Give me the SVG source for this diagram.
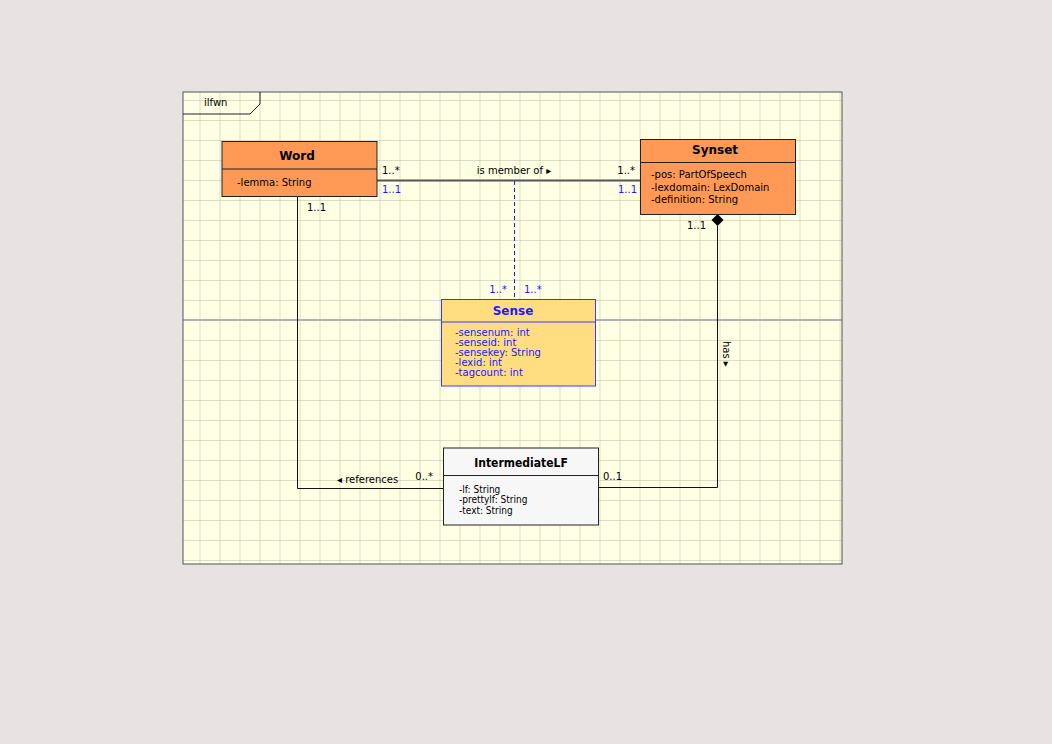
<svg xmlns="http://www.w3.org/2000/svg" width="1052" height="744" viewBox="0 0 1052 744">
  <defs>
    <pattern id="grid" x="199.5" y="100" width="20" height="20" patternUnits="userSpaceOnUse">
      <path d="M0 0 V20 M0 0 H20" fill="none" stroke="#b9b9a9" stroke-width="1"/>
    </pattern>
    <style>
      text { font-family: "DejaVu Sans", "Liberation Sans", sans-serif; }
      .title { font-size: 12px; font-weight: bold; text-anchor: middle; }
      .attr { font-size: 10px; }
      .cond { font-family: "DejaVu Sans Condensed", "DejaVu Sans", sans-serif; font-stretch: condensed; }
      .lbl { font-size: 10px; fill: #000; }
      .blue { fill: #1a1aff; }
      .cls { stroke: #222; stroke-width: 1; }
      .conn { fill: none; stroke: #111; stroke-width: 1; }
    </style>
  </defs>

  <!-- page background -->
  <rect x="0" y="0" width="1052" height="744" fill="#e8e2e2"/>

  <!-- package frame with grid -->
  <g id="frame">
    <rect x="183" y="92" width="659" height="472" fill="#ffffe3"/>
    <rect x="183" y="92" width="659" height="472" fill="url(#grid)"/>
    <line x1="183" y1="320" x2="842" y2="320" stroke="#b0b0b0" stroke-width="2"/>
    <rect x="183" y="92" width="659" height="472" fill="none" stroke="#555" stroke-width="1"/>
    <path d="M183 114 H250 L260 104 V92" fill="none" stroke="#222" stroke-width="1"/>
    <text x="204" y="106" class="lbl">ilfwn</text>
  </g>

  <!-- connectors -->
  <g id="connectors">
    <!-- Word / Synset association -->
    <line x1="377" y1="180.5" x2="640" y2="180.5" stroke="#555" stroke-width="2.2"/>
    <text x="382" y="174" class="lbl">1..*</text>
    <text x="382" y="193" class="lbl blue">1..1</text>
    <text x="514" y="174" class="lbl" text-anchor="middle">is member of ▸</text>
    <text x="635" y="174" class="lbl" text-anchor="end">1..*</text>
    <text x="637" y="193" class="lbl blue" text-anchor="end">1..1</text>

    <!-- association class link to Sense -->
    <line x1="514.5" y1="181" x2="514.5" y2="299" stroke="#1a1aff" stroke-width="1" stroke-dasharray="4,3"/>
    <text x="507" y="293" class="lbl blue" text-anchor="end">1..*</text>
    <text x="524" y="293" class="lbl blue">1..*</text>

    <!-- Word references IntermediateLF -->
    <path class="conn" d="M297.5 196 V488.5 H443"/>
    <text x="307" y="211" class="lbl">1..1</text>
    <text x="337" y="483" class="lbl">◂ references</text>
    <text x="433" y="480" class="lbl" text-anchor="end">0..*</text>

    <!-- Synset has IntermediateLF (composition) -->
    <path class="conn" d="M717.5 226 V487.5 H598"/>
    <path d="M717.5 214 L723.5 220 L717.5 226 L711.5 220 Z" fill="#000"/>
    <text x="706" y="229" class="lbl" text-anchor="end">1..1</text>
    <text transform="translate(723 341) rotate(90)" class="lbl">has ▸</text>
    <text x="603" y="480" class="lbl">0..1</text>
  </g>

  <!-- Word class -->
  <g id="word">
    <rect x="222" y="141.5" width="155" height="55" fill="#ff9955" class="cls"/>
    <line x1="222" y1="169" x2="377" y2="169" class="cls"/>
    <text x="297" y="160" class="title">Word</text>
    <text x="237" y="186" class="attr">-lemma: String</text>
  </g>

  <!-- Synset class -->
  <g id="synset">
    <rect x="640.5" y="139.5" width="155" height="75" fill="#ff9955" class="cls"/>
    <line x1="640.5" y1="162.5" x2="795.5" y2="162.5" class="cls"/>
    <text x="715" y="154" class="title">Synset</text>
    <text x="651" y="178" class="attr">-pos: PartOfSpeech</text>
    <text x="651" y="190.5" class="attr">-lexdomain: LexDomain</text>
    <text x="651" y="203" class="attr">-definition: String</text>
  </g>

  <!-- Sense association class -->
  <g id="sense">
    <rect x="441.5" y="299.5" width="154" height="86.5" fill="#ffdd80" stroke="#3a3aff" stroke-width="1"/>
    <line x1="441.5" y1="322" x2="595.5" y2="322" stroke="#3a3aff" stroke-width="1"/>
    <text x="513" y="315" class="title blue">Sense</text>
    <text x="455" y="335.5" class="attr blue">-sensenum: int</text>
    <text x="455" y="345.5" class="attr blue">-senseid: int</text>
    <text x="455" y="355.5" class="attr blue">-sensekey: String</text>
    <text x="455" y="365.5" class="attr blue">-lexid: int</text>
    <text x="455" y="375.5" class="attr blue">-tagcount: int</text>
  </g>

  <!-- IntermediateLF class -->
  <g id="intermediatelf">
    <rect x="443.5" y="448" width="155" height="77" fill="#f7f7f7" class="cls"/>
    <line x1="443.5" y1="475.5" x2="598.5" y2="475.5" class="cls"/>
    <text x="521" y="466.5" class="title cond">IntermediateLF</text>
    <text x="459" y="492.5" class="attr cond">-lf: String</text>
    <text x="459" y="503" class="attr cond">-prettylf: String</text>
    <text x="459" y="514" class="attr cond">-text: String</text>
  </g>
</svg>
